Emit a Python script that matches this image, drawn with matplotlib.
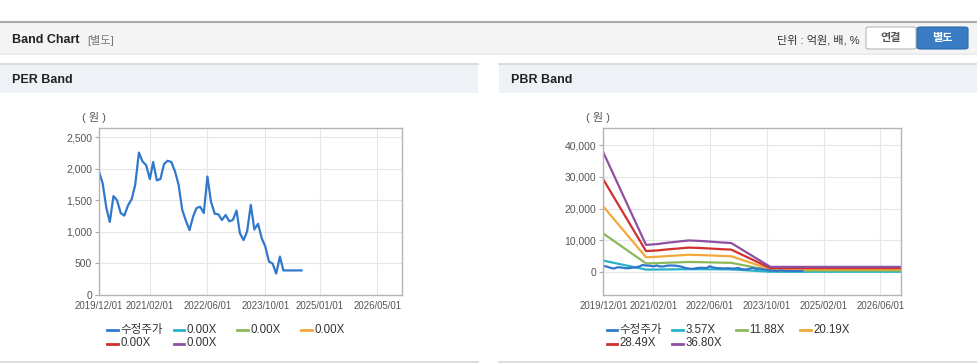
import pandas as pd
import matplotlib.pyplot as plt
import matplotlib.dates as mdates
from matplotlib.patches import Rectangle, FancyBboxPatch
from matplotlib.lines import Line2D

plt.rcParams['font.family'] = ['Liberation Sans', 'Noto Sans CJK KR', 'DejaVu Sans']

W, H = 978, 364

# 수정주가 (monthly, from 2019/12)
price = [1960, 1770, 1380, 1160, 1570, 1500, 1300, 1260, 1420, 1520,
         1750, 2260, 2120, 2060, 1840, 2110, 1820, 1840, 2080, 2130,
         2110, 1960, 1750, 1350, 1180, 1030, 1250, 1380, 1400, 1300,
         1880, 1480, 1290, 1280, 1190, 1270, 1170, 1190, 1340, 980,
         870, 1010, 1430, 1040, 1130, 900, 770, 530, 500, 340,
         610, 390, 390, 390, 390, 390, 390]
price_dates = pd.date_range("2019-12-01", periods=len(price), freq="MS")

# BPS used for PBR bands
bps_dates = pd.to_datetime(["2019-12-01", "2020-12-01", "2021-03-01", "2021-06-01",
                            "2021-09-01", "2021-12-01", "2022-03-01", "2022-06-01",
                            "2022-09-01", "2022-12-01", "2023-11-01", "2026-12-01"])
bps = [1024, 234, 240, 252, 262, 272, 268, 262, 255, 250, 46, 46]

pbr_mult = [3.57, 11.88, 20.19, 28.49, 36.80]
per_labels = ["0.00X", "0.00X", "0.00X", "0.00X", "0.00X"]
pbr_labels = ["3.57X", "11.88X", "20.19X", "28.49X", "36.80X"]

per_ticks = ["2019-12-01", "2021-02-01", "2022-06-01", "2023-10-01", "2025-01-01", "2026-05-01"]
pbr_ticks = ["2019-12-01", "2021-02-01", "2022-06-01", "2023-10-01", "2025-02-01", "2026-06-01"]

price_color = "#3178cc"
band_colors = ["#26b3c6", "#8cb85a", "#f2a93b", "#d22f2f", "#8e4fa0"]


def fx(x):
    return x / W


def fy(y):
    return 1 - y / H


fig = plt.figure(figsize=(W / 100, H / 100), dpi=100)


def rect(x0, y0, x1, y1, fc, ec="none", lw=0):
    fig.add_artist(Rectangle((fx(x0), fy(y1)), fx(x1) - fx(x0), fy(y0) - fy(y1),
                             transform=fig.transFigure, fc=fc, ec=ec, lw=lw))


def hline(x0, x1, y, color, lw=1):
    fig.add_artist(Line2D([fx(x0), fx(x1)], [fy(y), fy(y)], transform=fig.transFigure,
                          color=color, lw=lw))


# top header bar
rect(0, 22, W, 52, "#f4f4f4")
hline(0, W, 22, "#aaaaaa", 1.5)
hline(0, W, 52.5, "#d0d0d0", 1)
hline(0, W, 54, "#ececec", 1.5)
fig.text(fx(12), fy(40), "Band Chart", fontsize=9, fontweight="bold", va="center", color="#222222")
fig.text(fx(87), fy(40), "[별도]", fontsize=8, va="center", color="#777777")
fig.text(fx(860), fy(40), "단위 : 억원, 배, %", fontsize=8, va="center", ha="right", color="#333333")
fig.add_artist(FancyBboxPatch((fx(866), fy(49)), fx(50), fy(27) - fy(49), transform=fig.transFigure,
                              boxstyle="round,pad=0,rounding_size=0.004", fc="white", ec="#b8b8b8", lw=0.8))
fig.add_artist(FancyBboxPatch((fx(917), fy(49)), fx(51), fy(27) - fy(49), transform=fig.transFigure,
                              boxstyle="round,pad=0,rounding_size=0.004", fc="#3a7cc4", ec="#2f6aad", lw=0.8))
fig.text(fx(891), fy(38.5), "연결", fontsize=8, fontweight="bold", va="center", ha="center", color="#555555")
fig.text(fx(942.5), fy(38.5), "별도", fontsize=8, fontweight="bold", va="center", ha="center", color="white")

# panel headers
for x0, x1, title in [(0, 478, "PER Band"), (499, W, "PBR Band")]:
    rect(x0, 64, x1, 93, "#eef2f7")
    hline(x0, x1, 64, "#d6d6d6", 1.2)
    hline(x0, x1, 362, "#d6d6d6", 1.2)
    fig.text(fx(x0 + 12), fy(80), title, fontsize=9, fontweight="bold", va="center", color="#222222")


def style_axes(ax, ticks):
    ax.set_xlim(pd.Timestamp("2019-12-01"), pd.Timestamp("2026-11-25"))
    ax.set_xticks(pd.to_datetime(ticks))
    ax.xaxis.set_major_formatter(mdates.DateFormatter("%Y/%m/%d"))
    ax.tick_params(axis="x", length=0, pad=4, labelsize=6.9, labelcolor="#555555")
    ax.tick_params(axis="y", length=3, color="#aaaaaa", pad=2, labelsize=7.5, labelcolor="#555555")
    ax.yaxis.set_major_formatter(plt.FuncFormatter(lambda v, p: f"{v:,.0f}"))
    ax.grid(True, color="#e6e6e6", lw=0.8)
    ax.set_axisbelow(True)
    for s in ax.spines.values():
        s.set_color("#b4b4b4")
        s.set_linewidth(1)


# PER Band
ax1 = fig.add_axes([fx(99), fy(295), fx(402) - fx(99), fy(128) - fy(295)])
ax1.plot(price_dates, price, color=price_color, lw=1.6)
ax1.set_ylim(0, 2650)
ax1.set_yticks([0, 500, 1000, 1500, 2000, 2500])
style_axes(ax1, per_ticks)
fig.text(fx(94), fy(118), "( 원 )", fontsize=8, va="center", ha="center", color="#555555")

# PBR Band
ax2 = fig.add_axes([fx(603.3), fy(295), fx(901) - fx(603.3), fy(128) - fy(295)])
for m, c in zip(pbr_mult, band_colors):
    ax2.plot(bps_dates, [m * b for b in bps], color=c, lw=1.6)
ax2.plot(price_dates, price, color=price_color, lw=1.6)
ax2.set_ylim(-7150, 45350)
ax2.set_yticks([0, 10000, 20000, 30000, 40000])
style_axes(ax2, pbr_ticks)
fig.text(fx(598), fy(118), "( 원 )", fontsize=8, va="center", ha="center", color="#555555")


# legends
def legend(x_start, labels):
    names = ["수정주가"] + labels
    colors = [price_color] + band_colors
    cols = [0, 66, 130, 194]
    for i, (name, c) in enumerate(zip(names, colors)):
        row, col = divmod(i, 4)
        x = x_start + cols[col]
        y = 330 + row * 13.5
        fig.add_artist(Line2D([fx(x), fx(x + 10.5)], [fy(y), fy(y)], transform=fig.transFigure,
                              color=c, lw=2))
        fig.text(fx(x + 13), fy(y), name, fontsize=8.3, va="center", color="#333333")


legend(107.5, per_labels)
legend(606.5, pbr_labels)

fig.savefig("out.png", dpi=100, facecolor="white")
